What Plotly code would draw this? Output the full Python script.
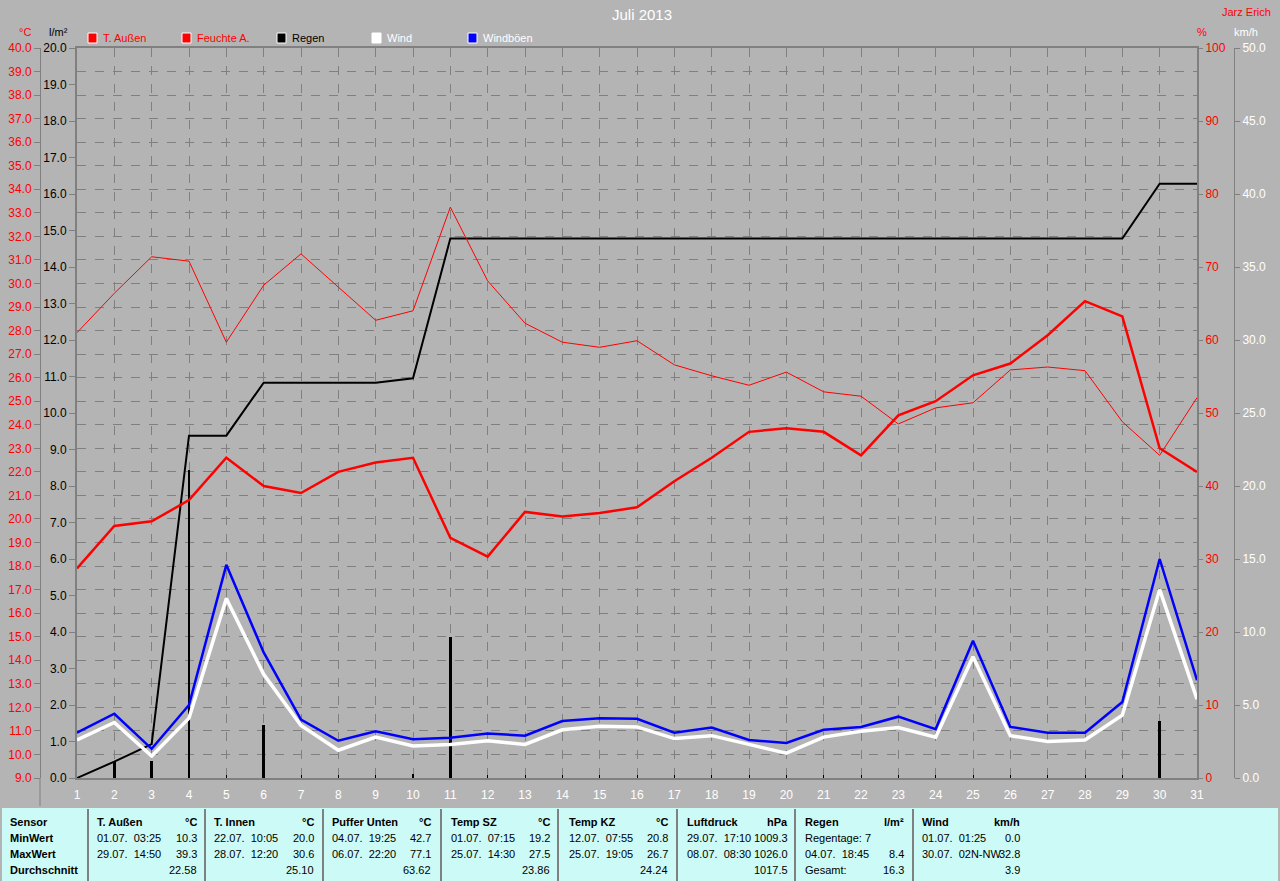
import plotly.graph_objects as go

# ---------------- data ----------------
days = list(range(1, 32))
temp_aussen = [17.9, 19.7, 19.9, 20.8, 22.6, 21.4, 21.1, 22.0, 22.4, 22.6, 19.2, 18.4, 20.3, 20.1,
               20.25, 20.5, 21.6, 22.6, 23.7, 23.85, 23.7, 22.7, 24.4, 25.0, 26.1, 26.6, 27.8,
               29.25, 28.6, 23.0, 22.0]
feuchte = [61.0, 66.4, 71.4, 70.8, 59.7, 67.5, 71.8, 67.3, 62.7, 64.0, 78.2, 68.1, 62.3, 59.7,
           59.0, 59.9, 56.6, 55.1, 53.8, 55.6, 52.9, 52.3, 48.5, 50.7, 51.4, 55.9, 56.3, 55.8,
           48.8, 44.2, 52.1]
regen_tag = [0, 0.46, 0.46, 8.45, 0, 1.45, 0, 0, 0, 0.12, 3.85, 0, 0, 0, 0, 0, 0, 0, 0, 0,
             0, 0, 0, 0, 0, 0, 0, 0, 0, 1.55, 0]
regen_summe = [0, 0.45, 0.93, 9.38, 9.38, 10.83, 10.83, 10.83, 10.83, 10.95, 14.78, 14.78,
               14.78, 14.78, 14.78, 14.78, 14.78, 14.78, 14.78, 14.78, 14.78, 14.78, 14.78,
               14.78, 14.78, 14.78, 14.78, 14.78, 14.78, 16.28, 16.28]
wind = [2.6, 3.8, 1.5, 4.1, 12.3, 7.1, 3.6, 1.9, 2.8, 2.2, 2.3, 2.55, 2.3, 3.3, 3.55, 3.5, 2.7,
        2.9, 2.3, 1.7, 2.8, 3.2, 3.45, 2.8, 8.3, 2.9, 2.5, 2.6, 4.3, 12.9, 5.4]
boeen = [3.1, 4.4, 2.0, 5.0, 14.6, 8.6, 4.0, 2.55, 3.2, 2.65, 2.75, 3.05, 2.9, 3.9, 4.1, 4.05,
         3.1, 3.45, 2.6, 2.4, 3.3, 3.5, 4.2, 3.35, 9.4, 3.5, 3.1, 3.1, 5.2, 15.0, 6.7]

legend_names = ["T. Außen", "Feuchte A.", "Regen", "Wind", "Windböen"]

table_headers = ["Sensor", "T. Außen", "T. Innen", "Puffer Unten", "Temp SZ", "Temp KZ",
                 "Luftdruck", "Regen", "Wind"]
table_units = ["", "°C", "°C", "°C", "°C", "°C", "hPa", "l/m²", "km/h"]
row_labels = ["MinWert", "MaxWert", "Durchschnitt"]
min_when = ["01.07.  03:25", "22.07.  10:05", "04.07.  19:25", "01.07.  07:15", "12.07.  07:55",
            "29.07.  17:10", "Regentage: 7", "01.07.  01:25"]
min_vals = ["10.3", "20.0", "42.7", "19.2", "20.8", "1009.3", "", "0.0"]
max_when = ["29.07.  14:50", "28.07.  12:20", "06.07.  22:20", "25.07.  14:30", "25.07.  19:05",
            "08.07.  08:30", "04.07.  18:45", "30.07.  02N-NW"]
max_vals = ["39.3", "30.6", "77.1", "27.5", "26.7", "1026.0", "8.4", "32.8"]
avg_when = ["", "", "", "", "", "", "Gesamt:", ""]
avg_vals = ["22.58", "25.10", "63.62", "23.86", "24.24", "1017.5", "16.3", "3.9"]

# ---------------- layout helpers ----------------
W, H = 1280, 881
FONT = "Liberation Sans"
BG = "#b4b4b4"
GRID = "#808080"
RED = "#ff0000"


def px(x):
    return x / W


def py(y):
    return 1 - y / H


x0, x1 = 77, 1197
y_top, y_bot = 48, 778

fig = go.Figure()

fig.add_trace(go.Bar(x=days, y=regen_tag, width=0.08, marker=dict(color="black", line=dict(width=0)),
                     yaxis="y", showlegend=False))
fig.add_trace(go.Scatter(x=days, y=regen_summe, mode="lines", line=dict(color="black", width=2),
                         yaxis="y", showlegend=False))
fig.add_trace(go.Scatter(x=days, y=feuchte, mode="lines", line=dict(color=RED, width=1),
                         yaxis="y3", showlegend=False))
fig.add_trace(go.Scatter(x=days, y=temp_aussen, mode="lines", line=dict(color=RED, width=2.5),
                         yaxis="y2", showlegend=False))
fig.add_trace(go.Scatter(x=days, y=wind, mode="lines", line=dict(color="white", width=3.5),
                         yaxis="y4", showlegend=False))
fig.add_trace(go.Scatter(x=days, y=boeen, mode="lines", line=dict(color="#0000ff", width=2.5),
                         yaxis="y4", showlegend=False))

dom_y = [py(y_bot), py(y_top)]

fig.update_layout(
    width=W, height=H, margin=dict(l=0, r=0, t=0, b=0, pad=0), autosize=False,
    paper_bgcolor=BG, plot_bgcolor=BG, bargap=0,
    xaxis=dict(domain=[px(x0), px(x1)], range=[1, 31], tickmode="array", tickvals=days,
               ticktext=[str(d) for d in days], tickfont=dict(family=FONT, size=12, color="white"),
               showgrid=True, gridcolor=GRID, griddash="dash", gridwidth=1,
               showline=True, linecolor=GRID, linewidth=2, mirror=True,
               ticks="inside", ticklen=3, tickcolor="black", zeroline=False, fixedrange=True,
               automargin=False, ticklabelstandoff=5),
    yaxis=dict(domain=dom_y, range=[0, 20], dtick=1, tickformat=".1f",
               tickfont=dict(family=FONT, size=12, color="black"),
               ticks="outside", ticklen=6, tickcolor=GRID, showgrid=False,
               showline=True, linecolor=GRID, linewidth=2, mirror=True, zeroline=False,
               automargin=False),
    yaxis2=dict(domain=dom_y, overlaying="y", anchor="free", position=px(40), side="left",
                range=[9, 40], dtick=1, tickformat=".1f",
                tickfont=dict(family=FONT, size=12, color=RED),
                ticks="outside", ticklen=6, tickcolor=GRID,
                showgrid=True, gridcolor=GRID, griddash="dash", gridwidth=1,
                showline=True, linecolor=GRID, linewidth=1, zeroline=False, automargin=False),
    yaxis3=dict(domain=dom_y, overlaying="y", anchor="x", side="right", range=[0, 100], dtick=10,
                tickfont=dict(family=FONT, size=12, color=RED),
                ticks="outside", ticklen=5, tickcolor=GRID, showgrid=False, showline=False,
                zeroline=False, automargin=False),
    yaxis4=dict(domain=dom_y, overlaying="y", anchor="free", position=px(1234), side="right",
                range=[0, 50], dtick=5, tickformat=".1f",
                tickfont=dict(family=FONT, size=12, color="white"),
                ticks="outside", ticklen=5, tickcolor=GRID, showgrid=False,
                showline=True, linecolor=GRID, linewidth=1, zeroline=False, automargin=False),
    showlegend=False,
)

annotations = []
shapes = []


def text(x, y, s, color="black", anchor="left", size=11, bold=False):
    if bold:
        s = "<b>" + s + "</b>"
    annotations.append(dict(x=px(x), y=py(y), xref="paper", yref="paper", text=s, showarrow=False,
                            xanchor=anchor, yanchor="middle",
                            font=dict(family=FONT, size=size, color=color)))


# title and author
text(642, 15, "Juli 2013", color="white", anchor="center", size=15)
text(1273, 12, "Jarz Erich", color=RED, anchor="right", size=11)

# axis unit labels
text(25, 32, "°C", color=RED, anchor="center", size=11)
text(58, 32, "l/m²", color="black", anchor="center", size=11)
text(1202, 32, "%", color=RED, anchor="center", size=11)
text(1246, 32, "km/h", color="white", anchor="center", size=11)

# extension of the temperature axis line below the plot
shapes.append(dict(type="line", xref="paper", yref="paper", x0=px(40), x1=px(40),
                   y0=py(778), y1=py(806), line=dict(color=GRID, width=1)))

# legend
leg_sq_x = [88, 182, 277, 372, 468]
leg_fill = [RED, RED, "black", "white", "#0000ff"]
leg_txt_col = [RED, RED, "black", "white", "white"]
for lx, name, fc, tc in zip(leg_sq_x, legend_names, leg_fill, leg_txt_col):
    shapes.append(dict(type="rect", xref="paper", yref="paper", x0=px(lx), x1=px(lx + 9),
                       y0=py(43), y1=py(33), fillcolor=fc, line=dict(color="white", width=1)))
    text(lx + 13, 38, name, color=tc, size=11)

# table
shapes.append(dict(type="rect", xref="paper", yref="paper", x0=px(2), x1=px(1278),
                   y0=py(881), y1=py(808), fillcolor="#ccfaf6", line=dict(width=0), layer="above"))
seps = [88, 205, 323, 441, 558, 677, 795, 913]
for sx in seps:
    shapes.append(dict(type="line", xref="paper", yref="paper", x0=px(sx), x1=px(sx),
                       y0=py(881), y1=py(809), line=dict(color=GRID, width=2), layer="above"))

left_x = [8, 95, 212, 330, 449, 567, 685, 803, 920]
right_x = [None, 199, 316, 433, 552, 670, 790, 906, 1022]
row_y = [822, 838, 854, 870]

for i, (hdr, unit) in enumerate(zip(table_headers, table_units)):
    text(left_x[i], row_y[0], hdr, bold=True)
    if unit:
        text(right_x[i], row_y[0], unit, anchor="right", bold=True)
for r, lab in enumerate(row_labels):
    text(left_x[0], row_y[r + 1], lab, bold=True)
rows = [(min_when, min_vals), (max_when, max_vals), (avg_when, avg_vals)]
for r, (whens, vals) in enumerate(rows):
    for c in range(8):
        if whens[c]:
            text(left_x[c + 1], row_y[r + 1], whens[c].replace(" ", "\u00a0"))
        if vals[c]:
            text(right_x[c + 1], row_y[r + 1], vals[c], anchor="right")

fig.update_layout(annotations=annotations, shapes=shapes)

fig.write_html("out.html", config={"displayModeBar": False},
               post_script="document.body.style.margin='0';")
